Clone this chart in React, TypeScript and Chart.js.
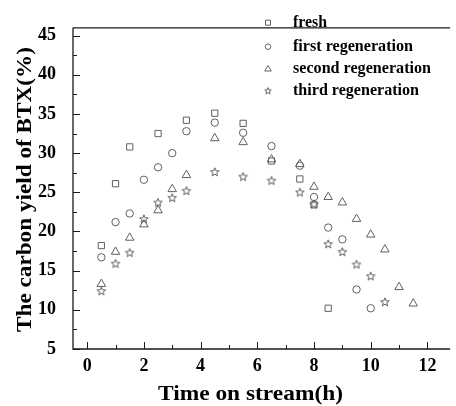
import React, { useEffect, useRef } from "react";
import { Chart, registerables } from "chart.js";
Chart.register(...registerables);

const freshTime = [0.5, 1, 1.5, 2.5, 3.5, 4.5, 5.5, 6.5, 7.5, 8, 8.5];
const freshYield = [18.2, 26.1, 30.8, 32.5, 34.2, 35.1, 33.8, 29.0, 26.7, 23.4, 10.2];

const firstTime = [0.5, 1, 1.5, 2, 2.5, 3, 3.5, 4.5, 5.5, 6.5, 7.5, 8, 8.5, 9, 9.5, 10];
const firstYield = [16.7, 21.2, 22.3, 26.6, 28.2, 30.0, 32.8, 33.9, 32.6, 30.9, 28.4, 24.4, 20.5, 19.0, 12.6, 10.2];

const secondTime = [0.5, 1, 1.5, 2, 2.5, 3, 3.5, 4.5, 5.5, 6.5, 7.5, 8, 8.5, 9, 9.5, 10, 10.5, 11, 11.5];
const secondYield = [13.3, 17.4, 19.2, 20.9, 22.7, 25.4, 27.2, 31.9, 31.4, 29.2, 28.6, 25.7, 24.4, 23.7, 21.6, 19.6, 17.7, 12.9, 10.8];

const thirdTime = [0.5, 1, 1.5, 2, 2.5, 3, 3.5, 4.5, 5.5, 6.5, 7.5, 8, 8.5, 9, 9.5, 10, 10.5];
const thirdYield = [12.4, 15.9, 17.3, 21.6, 23.7, 24.3, 25.2, 27.6, 27.0, 26.5, 25.0, 23.5, 18.4, 17.4, 15.8, 14.3, 11.0];

const seriesLabels = ["fresh", "first regeneration", "second regeneration", "third regeneration"];
const xTickValues = [0, 2, 4, 6, 8, 10, 12];
const yTickValues = [5, 10, 15, 20, 25, 30, 35, 40, 45];
const xMinorTicks = [1, 3, 5, 7, 9, 11];
const yMinorTicks = [7.5, 12.5, 17.5, 22.5, 27.5, 32.5, 37.5, 42.5];
const xTitle = "Time on stream(h)";
const yTitle = "The carbon yield of BTX(%)";

const MARK = "#606060";
const AXIS = "#1a1a1a";
const FONT = "'Liberation Serif', 'Times New Roman', serif";

function makeStar(outer: number, inner: number, color: string): HTMLCanvasElement {
  const size = Math.ceil(outer * 2 + 3);
  const c = document.createElement("canvas");
  c.width = size;
  c.height = size;
  const ctx = c.getContext("2d")!;
  const cx = size / 2;
  const cy = size / 2 + 0.3;
  ctx.beginPath();
  for (let i = 0; i < 10; i++) {
    const r = i % 2 === 0 ? outer : inner;
    const a = -Math.PI / 2 + (i * Math.PI) / 5;
    const px = cx + r * Math.cos(a);
    const py = cy + r * Math.sin(a);
    if (i === 0) ctx.moveTo(px, py);
    else ctx.lineTo(px, py);
  }
  ctx.closePath();
  ctx.strokeStyle = color;
  ctx.lineWidth = 1;
  ctx.stroke();
  return c;
}

function toPoints(xs: number[], ys: number[]) {
  return xs.map((x, i) => ({ x, y: ys[i] }));
}

// draw text stretched horizontally to a target width
function fitText(ctx: CanvasRenderingContext2D, text: string, x: number, y: number, targetW: number) {
  const w = ctx.measureText(text).width;
  const s = targetW / w;
  ctx.save();
  ctx.translate(x, y);
  ctx.scale(s, 1);
  ctx.fillText(text, 0, 0);
  ctx.restore();
}

export default function App() {
  const ref = useRef<HTMLCanvasElement | null>(null);

  useEffect(() => {
    if (!ref.current) return;
    const star = makeStar(4.5, 1.9, MARK);
    const starSmall = makeStar(3.5, 1.5, MARK);

    const frame = {
      id: "frame",
      afterDraw(chart: any) {
        const { ctx, chartArea: a, scales } = chart;
        const xs = scales.x;
        const ys = scales.y;
        ctx.save();
        ctx.strokeStyle = AXIS;
        ctx.lineWidth = 1.3;
        ctx.beginPath();
        ctx.moveTo(a.left, a.top);
        ctx.lineTo(a.right, a.top);
        ctx.moveTo(a.left, a.top);
        ctx.lineTo(a.left, a.bottom);
        ctx.lineTo(a.right, a.bottom);
        ctx.stroke();
        ctx.lineWidth = 1;
        ctx.beginPath();
        yTickValues.forEach((v) => {
          const y = Math.round(ys.getPixelForValue(v)) + 0.5;
          ctx.moveTo(a.left, y);
          ctx.lineTo(a.left + 7, y);
        });
        yMinorTicks.forEach((v) => {
          const y = Math.round(ys.getPixelForValue(v)) + 0.5;
          ctx.moveTo(a.left, y);
          ctx.lineTo(a.left + 4, y);
        });
        xTickValues.forEach((v) => {
          const x = Math.round(xs.getPixelForValue(v)) + 0.5;
          ctx.moveTo(x, a.bottom);
          ctx.lineTo(x, a.bottom - 7);
        });
        xMinorTicks.forEach((v) => {
          const x = Math.round(xs.getPixelForValue(v)) + 0.5;
          ctx.moveTo(x, a.bottom);
          ctx.lineTo(x, a.bottom - 4);
        });
        ctx.stroke();

        // axis titles
        ctx.fillStyle = "#000";
        ctx.font = `bold 22px ${FONT}`;
        ctx.textAlign = "left";
        ctx.textBaseline = "alphabetic";
        fitText(ctx, xTitle, 158, 399.5, 185);
        ctx.save();
        ctx.translate(30.5, 0);
        ctx.rotate(-Math.PI / 2);
        fitText(ctx, yTitle, -332, 0, 285);
        ctx.restore();

        // legend
        const rows = [22.7, 46.7, 69, 90.7];
        const mx = 268;
        ctx.strokeStyle = MARK;
        ctx.lineWidth = 1;
        ctx.beginPath();
        ctx.rect(mx - 2.5, rows[0] - 2.5, 5, 5);
        ctx.stroke();
        ctx.beginPath();
        ctx.arc(mx, rows[1], 2.8, 0, Math.PI * 2);
        ctx.stroke();
        ctx.beginPath();
        ctx.moveTo(mx, rows[2] - 3.5);
        ctx.lineTo(mx + 3.3, rows[2] + 2);
        ctx.lineTo(mx - 3.3, rows[2] + 2);
        ctx.closePath();
        ctx.stroke();
        ctx.drawImage(starSmall, mx - starSmall.width / 2, rows[3] - starSmall.height / 2);
        ctx.fillStyle = "#000";
        ctx.font = `bold 16px ${FONT}`;
        ctx.textBaseline = "middle";
        const legendW = [34, 120, 138, 126];
        seriesLabels.forEach((t, i) => fitText(ctx, t, 293, rows[i], legendW[i]));
        ctx.restore();
      },
    };

    const common = {
      showLine: false,
      borderColor: MARK,
      backgroundColor: "rgba(0,0,0,0)",
      borderWidth: 1,
    };

    const chart = new Chart(ref.current, {
      type: "scatter",
      data: {
        datasets: [
          { ...common, label: seriesLabels[0], data: toPoints(freshTime, freshYield), pointStyle: "rect", pointRadius: 4.4 },
          { ...common, label: seriesLabels[1], data: toPoints(firstTime, firstYield), pointStyle: "circle", pointRadius: 3.7 },
          { ...common, label: seriesLabels[2], data: toPoints(secondTime, secondYield), pointStyle: "triangle", pointRadius: 4.9 },
          { ...common, label: seriesLabels[3], data: toPoints(thirdTime, thirdYield), pointStyle: star as any, pointRadius: 4.5 },
        ],
      },
      plugins: [frame],
      options: {
        animation: false,
        responsive: false,
        maintainAspectRatio: false,
        events: [],
        layout: { padding: { top: 11.5, right: 0, bottom: 0, left: 0 } },
        plugins: { legend: { display: false }, tooltip: { enabled: false } },
        scales: {
          x: {
            type: "linear",
            min: -0.5,
            max: 12.8,
            afterBuildTicks: (s: any) => {
              s.ticks = xTickValues.map((v) => ({ value: v }));
            },
            afterFit: (s: any) => {
              s.height = 57;
            },
            grid: { display: false, drawTicks: false },
            border: { display: false },
            ticks: {
              padding: 7,
              color: "#000",
              font: { family: FONT, size: 18, weight: "bold" },
              maxRotation: 0,
            },
          },
          y: {
            type: "linear",
            min: 5,
            max: 46,
            afterBuildTicks: (s: any) => {
              s.ticks = yTickValues.map((v) => ({ value: v }));
            },
            afterFit: (s: any) => {
              s.width = 73;
            },
            grid: { display: false, drawTicks: false },
            border: { display: false },
            ticks: {
              padding: 17,
              color: "#000",
              font: { family: FONT, size: 18, weight: "bold" },
            },
          },
        },
      },
    } as any);
    return () => chart.destroy();
  }, []);

  return (
    <div style={{ position: "fixed", left: 0, top: 0, width: 456, height: 406, background: "#fff", overflow: "hidden" }}>
      <canvas ref={ref} width={456} height={406} style={{ width: 456, height: 406, display: "block" }} />
    </div>
  );
}
